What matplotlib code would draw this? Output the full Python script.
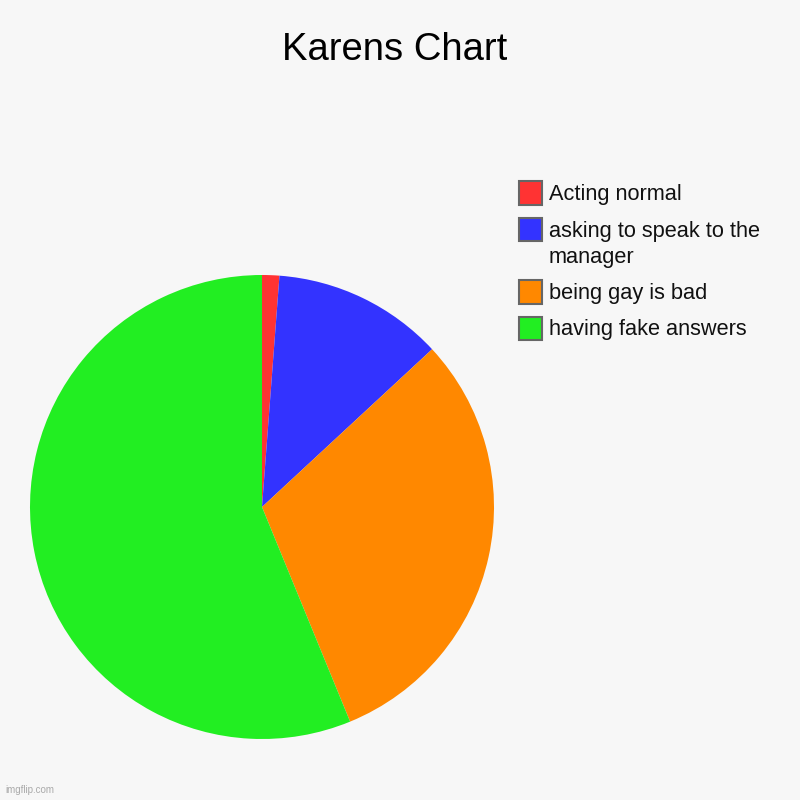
import matplotlib.pyplot as plt
from matplotlib.patches import Rectangle

plt.rcParams['font.family'] = ['Liberation Sans', 'DejaVu Sans']

labels = ['Acting normal', 'asking to speak to the\nmanager', 'being gay is bad', 'having fake answers']
values = [1.2, 11.9, 30.7, 56.2]
colors = ['#ff3333', '#3333ff', '#ff8800', '#22ee22']

bg = '#f7f7f7'
fig = plt.figure(figsize=(8, 8), dpi=100, facecolor=bg)

ax = fig.add_axes([0.0375, 0.07625, 0.58, 0.58])
ax.set_facecolor(bg)
ax.pie(values, colors=colors, startangle=90, counterclock=False,
       wedgeprops={'linewidth': 0})
ax.set_xlim(-1, 1)
ax.set_ylim(-1, 1)
ax.set_aspect('equal')

fig.text(395 / 800, 1 - 50 / 800, 'Karens Chart', ha='center', va='center',
         fontsize=27.5, color='black')

# legend drawn by hand to mimic the original layout
y = 193
for lab, col in zip(labels, colors):
    fig.patches.append(Rectangle((519 / 800, 1 - (y + 11.5) / 800), 23 / 800, 23 / 800,
                                 transform=fig.transFigure, facecolor=col,
                                 edgecolor='#666666', linewidth=1.5))
    fig.text(549 / 800, 1 - (y - 9) / 800, lab, ha='left', va='top',
             fontsize=15.7, color='#111111', linespacing=1.32)
    y += 36.5 + 26 * lab.count('\n')

fig.text(5 / 800, 1 - 795 / 800, 'imgflip.com', ha='left', va='bottom',
         fontsize=7, color='#aaaaaa')

fig.savefig('out.png', dpi=100, facecolor=bg)
